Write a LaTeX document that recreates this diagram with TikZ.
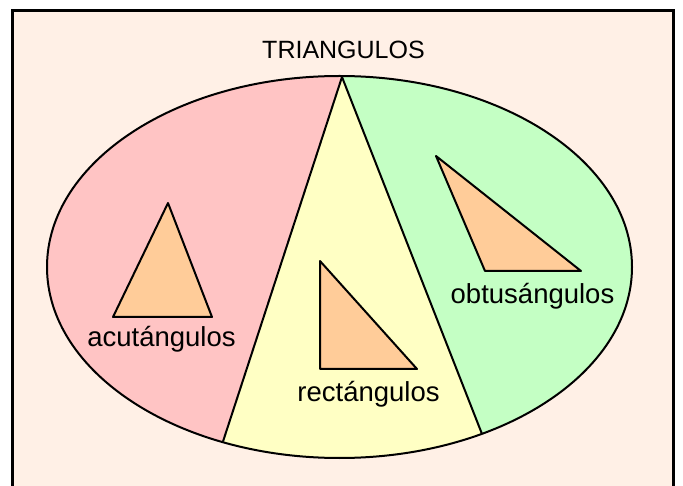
\documentclass[tikz,border=0pt]{standalone}
\usepackage{fontspec}
\setmainfont{Liberation Sans}
\definecolor{bgpeach}{HTML}{FFF0E6}
\definecolor{regpink}{HTML}{FFC4C4}
\definecolor{regyellow}{HTML}{FFFFC4}
\definecolor{reggreen}{HTML}{C4FFC4}
\definecolor{trifill}{HTML}{FFCC99}
\tikzset{
  outline/.style={draw=black, line width=2pt, line join=round},
  tri/.style={outline, fill=trifill},
  lbl/.style={inner sep=0pt, anchor=base, font=\fontsize{25}{30}\selectfont},
  lbls/.style={inner sep=0pt, anchor=base, font=\fontsize{27.5}{32}\selectfont}
}
\begin{document}
\begin{tikzpicture}[x=1pt,y=-1pt]
\useasboundingbox (0,0) rectangle (683,486);
\fill[white] (0,0) rectangle (683,486);
\fill[bgpeach] (12,10) rectangle (673,486);
\draw[line width=3pt] (12.5,490) -- (12.5,10.5) -- (673,10.5) -- (673,490);
\coordinate (C) at (339.5,267);
\coordinate (apex) at (342,77);
\coordinate (L) at (223,441.5);
\coordinate (R) at (482,434);
\begin{scope}
  \clip (C) ellipse [x radius=292.5pt, y radius=191pt];
  \fill[reggreen] (C) ellipse [x radius=292.5pt, y radius=191pt];
  \fill[regpink] (342,0) -- (apex) -- (L) -- (223,520) -- (0,520) -- (0,0) -- cycle;
  \fill[regyellow] (apex) -- (L) -- (223,520) -- (482,520) -- (R) -- cycle;
\end{scope}
\draw[outline] (C) ellipse [x radius=292.5pt, y radius=191pt];
\draw[outline] (L) -- (apex) -- (R);
\draw[tri] (168,203) -- (113,317) -- (212,317) -- cycle;
\draw[tri] (320,261) -- (320,369) -- (417,369) -- cycle;
\draw[tri] (436,156) -- (485,271) -- (581,271) -- cycle;
\node[lbl] (title) at (343.5,59) {TRIANGULOS};
\node[lbls] (acut) at (161.5,347) {acutángulos};
\node[lbls] (rect) at (368.5,402) {rectángulos};
\node[lbls] (obtu) at (532.5,304) {obtusángulos};
\end{tikzpicture}
\end{document}
